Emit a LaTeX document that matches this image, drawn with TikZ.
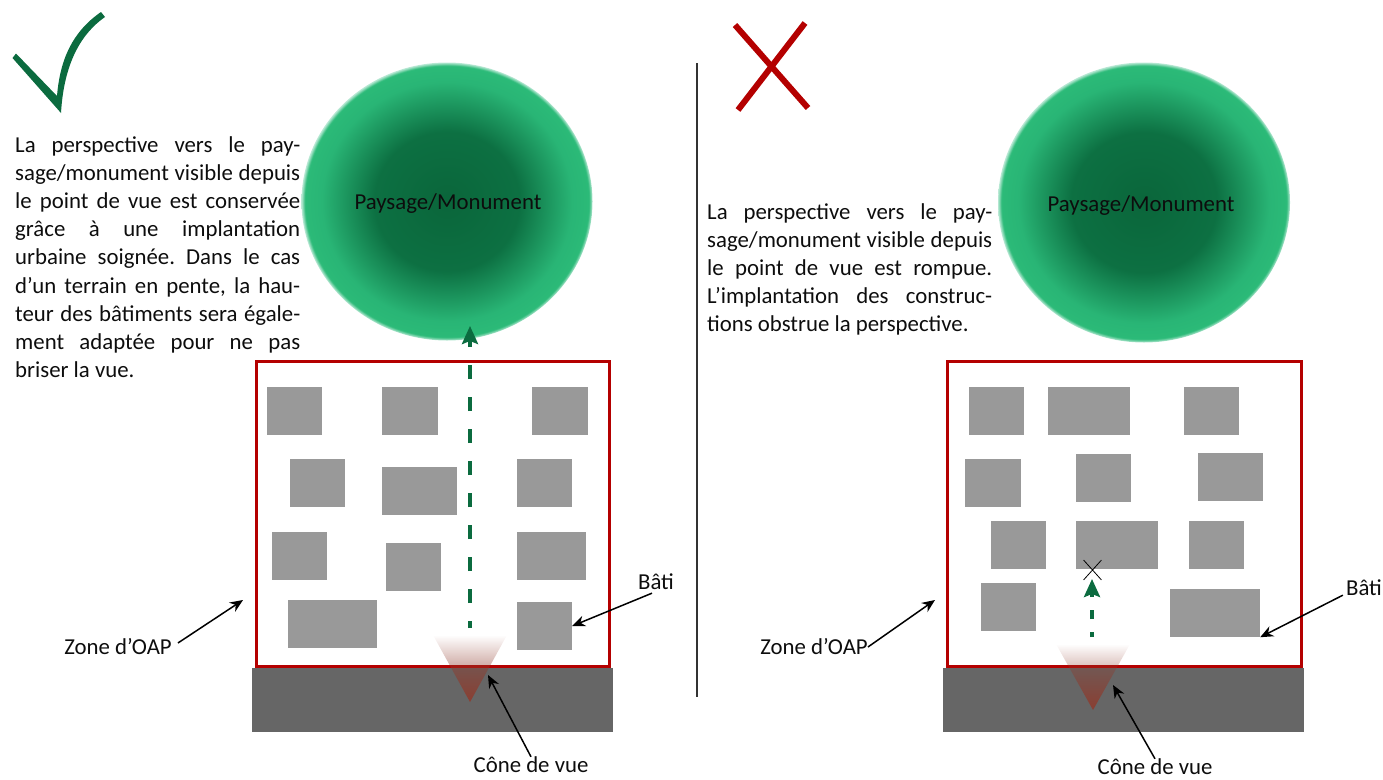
\documentclass[tikz,border=0pt]{standalone}
\usepackage{fontspec}
\setmainfont{Carlito}
\usetikzlibrary{arrows.meta,fadings,shapes.misc}
\frenchspacing
\definecolor{okgreen}{HTML}{0B6B3F}
\definecolor{kored}{HTML}{B40000}
\definecolor{bategray}{HTML}{999999}
\definecolor{roadgray}{HTML}{666666}
\definecolor{conered}{HTML}{8F3A2C}
\pgfdeclareradialshading{sphereglow}{\pgfpoint{0bp}{0bp}}{
  rgb(0bp)=(0.04,0.40,0.23);
  rgb(12.5bp)=(0.05,0.44,0.26);
  rgb(21.5bp)=(0.16,0.71,0.46);
  rgb(24.4bp)=(0.17,0.73,0.47);
  rgb(25bp)=(0.72,0.91,0.83);
  rgb(26bp)=(1,1,1)}
\tikzfading[name=conefade, top color=transparent!100, bottom color=transparent!10]
\tikzset{
  bati/.style={fill=bategray, inner sep=0pt},
  road/.style={fill=roadgray, inner sep=0pt, minimum width=361pt, minimum height=64pt},
  zone/.style={draw=kored, line width=3pt, inner sep=0pt, minimum height=305pt},
  label/.style={font=\fontsize{22.8}{26}\selectfont, text=black!95, inner sep=0pt},
  para/.style={font=\fontsize{22.8}{28.2}\selectfont, text=black!95, inner sep=0pt, anchor=north west, align=left},
  pointer/.style={draw=black, line width=1.5pt, -{Stealth[length=13pt,width=11pt]}},
  sight/.style={draw=okgreen, line width=3.5pt, dash pattern=on 14pt off 18pt, -{Stealth[length=18pt,width=16pt,inset=3pt]}}
}
\newcommand{\jline}[1]{\makebox[285pt][s]{#1}}
\begin{document}
\begin{tikzpicture}[x=1pt,y=-1pt]
    \useasboundingbox (0,0) rectangle (1383,779);
    \clip (0,0) rectangle (1383,779);

    % tick and cross
    \fill[okgreen] (12.5,58) -- (16,53.5) -- (57,96) .. controls (60,60) and (72,32) .. (101,12)
        -- (105,17) .. controls (82,33) and (64,62) .. (61,113) -- cycle;
    \draw[kored, line width=6pt] (735,25) -- (808,108);
    \draw[kored, line width=6pt] (805,23) -- (738,110);
    \draw[black!80, line width=1.5pt] (697,63) -- (697,697);

    % left side
    \shade[shading=sphereglow] (447,201.5) ellipse [x radius=145.5, y radius=139];
    \node[label] (sphereL) at (448,204) {Paysage/Monument};
    \node[para] (textL) at (15,136) {\jline{La perspective vers le pay-}\\\jline{sage/monument visible depuis}\\\jline{le point de vue est conservée}\\\jline{grâce à une implantation}\\\jline{urbaine soignée. Dans le cas}\\\jline{d’un terrain en pente, la hau-}\\\jline{teur des bâtiments sera égale-}\\\jline{ment adaptée pour ne pas}\\briser la vue.};
    \node[zone, minimum width=353pt] (zoneL) at (433,513.5) {};
    \node[road] (roadL) at (432.5,700) {};
    \node[bati, minimum width=55pt, minimum height=48pt] (bL1) at (294.5,411) {};
    \node[bati, minimum width=56pt, minimum height=48pt] (bL2) at (410,411) {};
    \node[bati, minimum width=56pt, minimum height=48pt] (bL3) at (560,411) {};
    \node[bati, minimum width=55pt, minimum height=48pt] (bL4) at (317.5,483) {};
    \node[bati, minimum width=75pt, minimum height=48pt] (bL5) at (419.5,491) {};
    \node[bati, minimum width=55pt, minimum height=48pt] (bL6) at (544.5,483) {};
    \node[bati, minimum width=55pt, minimum height=48pt] (bL7) at (299.5,556) {};
    \node[bati, minimum width=55pt, minimum height=48pt] (bL8) at (413.5,567) {};
    \node[bati, minimum width=69pt, minimum height=48pt] (bL9) at (551.5,556) {};
    \node[bati, minimum width=89pt, minimum height=48pt] (bL10) at (332.5,624) {};
    \node[bati, minimum width=55pt, minimum height=48pt] (bL11) at (544.5,626) {};
    \fill[conered, path fading=conefade] (433,635) -- (507,635) -- (470,702) -- cycle;
    \coordinate (viewL) at (470,628);
    \coordinate (topL) at (470,326);
    \draw[sight, dash phase=7pt] (viewL) -- (topL);

    \node[label] (oapL) at (118,647) {Zone d’OAP};
    \node[label] (batiL) at (656,582) {Bâti};
    \node[label] (coneL) at (531,765) {Cône de vue};
    \coordinate (zoneptL) at (243,600);
    \coordinate (coneptL) at (488,675);
    \draw[pointer] (oapL.east) ++(6,-4) -- (zoneptL);
    \draw[pointer] (batiL.south) ++(-4,3) -- (bL11.east);
    \draw[pointer] (coneL.north) -- (coneptL);

    % right side
    \shade[shading=sphereglow] (1144,202.5) ellipse [x radius=146, y radius=140];
    \node[label] (sphereR) at (1141,206) {Paysage/Monument};
    \node[para] (textR) at (707,203) {\jline{La perspective vers le pay-}\\\jline{sage/monument visible depuis}\\\jline{le point de vue est rompue.}\\\jline{L’implantation des construc-}\\tions obstrue la perspective.};
    \node[zone, minimum width=354pt] (zoneR) at (1124.5,514) {};
    \node[road] (roadR) at (1123.5,700) {};
    \node[bati, minimum width=55pt, minimum height=48pt] (bR1) at (996.5,411) {};
    \node[bati, minimum width=82pt, minimum height=48pt] (bR2) at (1089,411) {};
    \node[bati, minimum width=55pt, minimum height=48pt] (bR3) at (1211.5,411) {};
    \node[bati, minimum width=56pt, minimum height=48pt] (bR4) at (993,483) {};
    \node[bati, minimum width=55pt, minimum height=48pt] (bR5) at (1103.5,478) {};
    \node[bati, minimum width=65pt, minimum height=48pt] (bR6) at (1230.5,477) {};
    \node[bati, minimum width=55pt, minimum height=48pt] (bR7) at (1018.5,545) {};
    \node[bati, minimum width=82pt, minimum height=48pt] (bR8) at (1117,545) {};
    \node[bati, minimum width=55pt, minimum height=48pt] (bR9) at (1216.5,545) {};
    \node[bati, minimum width=55pt, minimum height=48pt] (bR10) at (1008.5,607) {};
    \node[bati, minimum width=90pt, minimum height=48pt] (bR11) at (1215,613) {};
    \fill[conered, path fading=conefade] (1056,644) -- (1130,644) -- (1093,710) -- cycle;
    \node[draw=black, cross out, line width=0.8pt, inner sep=0pt, minimum width=17pt, minimum height=19pt] (stopR) at (1092.5,570) {};
    \coordinate (viewR) at (1092,637);
    \coordinate (topR) at (1092,579);
    \draw[sight, dash pattern=on 9pt off 13pt, dash phase=4pt] (viewR) -- (topR);

    \node[label] (oapR) at (814,647) {Zone d’OAP};
    \node[label] (batiR) at (1364,588) {Bâti};
    \node[label] (coneR) at (1155,767) {Cône de vue};
    \coordinate (zoneptR) at (935,600);
    \coordinate (coneptR) at (1113,685);
    \draw[pointer] (oapR.east) -- (zoneptR);
    \draw[pointer] (batiR.south west) ++(-3,-1) -- (bR11.south east);
    \draw[pointer] (coneR.north) -- (coneptR);
\end{tikzpicture}
\end{document}
